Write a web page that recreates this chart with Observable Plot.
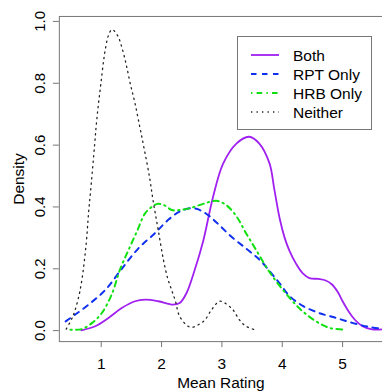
<!DOCTYPE html>
<html><head><meta charset="utf-8">
<script src="https://cdn.jsdelivr.net/npm/d3@7"></script>
<script src="https://cdn.jsdelivr.net/npm/@observablehq/plot@0.6"></script>
<style>
html,body{margin:0;padding:0;overflow:hidden;background:#fff;}
#wrap{position:relative;width:382px;height:392px;overflow:hidden;font-family:"Liberation Sans",Arial,Helvetica,sans-serif;}
#wrap svg{display:block;}
#legend{position:absolute;left:237px;top:36px;width:135px;height:94px;border:1px solid #777;box-sizing:border-box;background:#fff;font-size:15.5px;color:#000;}
#legend .t{position:absolute;left:55px;line-height:18px;white-space:nowrap;}
#legend svg{position:absolute;left:13px;}
</style></head><body><div id="wrap"></div>
<script>
// ---- data ----
const seriesNames = ["Both", "RPT Only", "HRB Only", "Neither"];

const bothX = [0.67,0.90,1.12,1.34,1.56,1.73,1.945,2.19,2.30,2.41,2.55,2.69,2.85,3.02,3.24,3.45,3.62,3.79,3.87,3.96,4.04,4.12,4.23,4.34,4.45,4.60,4.72,4.82,4.92,5.00,5.10,5.20,5.33,5.49,5.66];
const bothY = [0.001,0.014,0.041,0.073,0.095,0.100,0.095,0.084,0.089,0.120,0.197,0.290,0.430,0.540,0.605,0.627,0.605,0.540,0.455,0.360,0.300,0.258,0.216,0.185,0.170,0.167,0.162,0.150,0.125,0.095,0.062,0.036,0.014,0.004,0.004];

const rptX = [0.41,0.57,0.79,1.07,1.34,1.62,1.89,2.12,2.30,2.47,2.58,2.74,2.91,3.15,3.41,3.63,3.80,3.96,4.12,4.34,4.61,4.89,5.16,5.44,5.66];
const rptY = [0.030,0.052,0.084,0.132,0.200,0.267,0.315,0.360,0.385,0.396,0.394,0.378,0.350,0.305,0.264,0.228,0.190,0.152,0.112,0.080,0.057,0.041,0.025,0.012,0.006];

const hrbX = [0.49,0.68,0.85,1.01,1.18,1.31,1.45,1.59,1.73,1.86,1.945,2.05,2.17,2.30,2.47,2.69,2.91,3.07,3.24,3.40,3.57,3.73,3.84,4.01,4.17,4.34,4.56,4.78,5.03];
const hrbY = [0.003,0.005,0.025,0.057,0.120,0.197,0.260,0.320,0.380,0.403,0.410,0.405,0.390,0.390,0.396,0.410,0.420,0.406,0.370,0.315,0.260,0.207,0.175,0.132,0.095,0.062,0.030,0.009,0.003];

const neitherX = [0.42,0.53,0.615,0.68,0.75,0.79,0.835,0.89,0.92,0.955,0.995,1.04,1.08,1.12,1.18,1.275,1.34,1.41,1.48,1.56,1.64,1.70,1.80,1.86,1.945,2.03,2.10,2.16,2.23,2.30,2.44,2.51,2.61,2.72,2.83,2.96,3.05,3.18,3.29,3.40,3.59];
const neitherY = [0.005,0.046,0.100,0.165,0.280,0.380,0.476,0.600,0.670,0.735,0.800,0.874,0.923,0.955,0.974,0.953,0.917,0.864,0.800,0.735,0.658,0.600,0.497,0.420,0.325,0.230,0.170,0.135,0.095,0.046,0.014,0.011,0.019,0.035,0.068,0.095,0.089,0.068,0.035,0.014,0.000];

const xTicks = [1, 2, 3, 4, 5];
const yTicks = [0, 0.2, 0.4, 0.6, 0.8, 1.0];
const xTitle = "Mean Rating";
const yTitle = "Density";

// ---- styles (not data) ----
const styles = [
  {stroke: "#a020f0", strokeWidth: 1.8, dash: null},
  {stroke: "#1030f0", strokeWidth: 2, dash: "5.5,5.5"},
  {stroke: "#10e010", strokeWidth: 2, dash: "1.4,4.2,5.6,4.2"},
  {stroke: "#222222", strokeWidth: 1.3, dash: "1.3,4.2"}
];
const seriesData = [[bothX, bothY], [rptX, rptY], [hrbX, hrbY], [neitherX, neitherY]]
  .map(([xs, ys], i) => xs.map((x, j) => ({series: seriesNames[i], x, y: ys[j]})));

const font = '"Liberation Sans",Arial,Helvetica,sans-serif';

const plot = Plot.plot({
  width: 383, height: 392,
  marginLeft: 59, marginRight: 0, marginTop: 16, marginBottom: 50,
  style: {fontFamily: font, fontSize: "15.5px", background: "white", color: "black"},
  x: {domain: [0.306, 5.661], axis: null},
  y: {domain: [-0.0355, 1.0161], axis: null},
  marks: [
    ...seriesData.map((d, i) => Plot.line(d, {
      x: "x", y: "y", curve: "catmull-rom",
      stroke: styles[i].stroke, strokeWidth: styles[i].strokeWidth,
      strokeDasharray: styles[i].dash ?? undefined
    })),
    Plot.frame({stroke: "#777"}),
    Plot.axisX({ticks: xTicks, tickSize: 6, tickPadding: 10, tickFormat: d3.format("d"), stroke: "#777", fill: "black", label: null}),
    Plot.axisY({ticks: yTicks, tickSize: 6, tickPadding: 8, tickRotate: -90, tickFormat: d3.format(".1f"), stroke: "#777", fill: "black", fontSize: 15, label: null}),
    Plot.text([xTitle], {frameAnchor: "bottom", dy: 42, lineAnchor: "middle", fill: "black"}),
    Plot.text([yTitle], {frameAnchor: "left", dx: -40.5, rotate: -90, textAnchor: "middle", lineAnchor: "middle", fill: "black"})
  ]
});

const wrap = document.getElementById("wrap");
wrap.appendChild(plot);

// legend (inside plot area, as in the reference)
const legend = document.createElement("div");
legend.id = "legend";
seriesNames.forEach((name, i) => {
  const cy = 18 + i * 19;
  const ns = "http://www.w3.org/2000/svg";
  const s = document.createElementNS(ns, "svg");
  s.setAttribute("width", 28); s.setAttribute("height", 6);
  s.style.top = (cy - 3) + "px";
  const ln = document.createElementNS(ns, "line");
  ln.setAttribute("x1", 0); ln.setAttribute("x2", 28);
  ln.setAttribute("y1", 3); ln.setAttribute("y2", 3);
  ln.setAttribute("stroke", styles[i].stroke);
  ln.setAttribute("stroke-width", styles[i].strokeWidth);
  if (styles[i].dash) ln.setAttribute("stroke-dasharray", styles[i].dash);
  s.appendChild(ln);
  legend.appendChild(s);
  const t = document.createElement("div");
  t.className = "t";
  t.style.top = (cy - 8.5) + "px";
  t.textContent = name;
  legend.appendChild(t);
});
wrap.appendChild(legend);
</script>
</body></html>
